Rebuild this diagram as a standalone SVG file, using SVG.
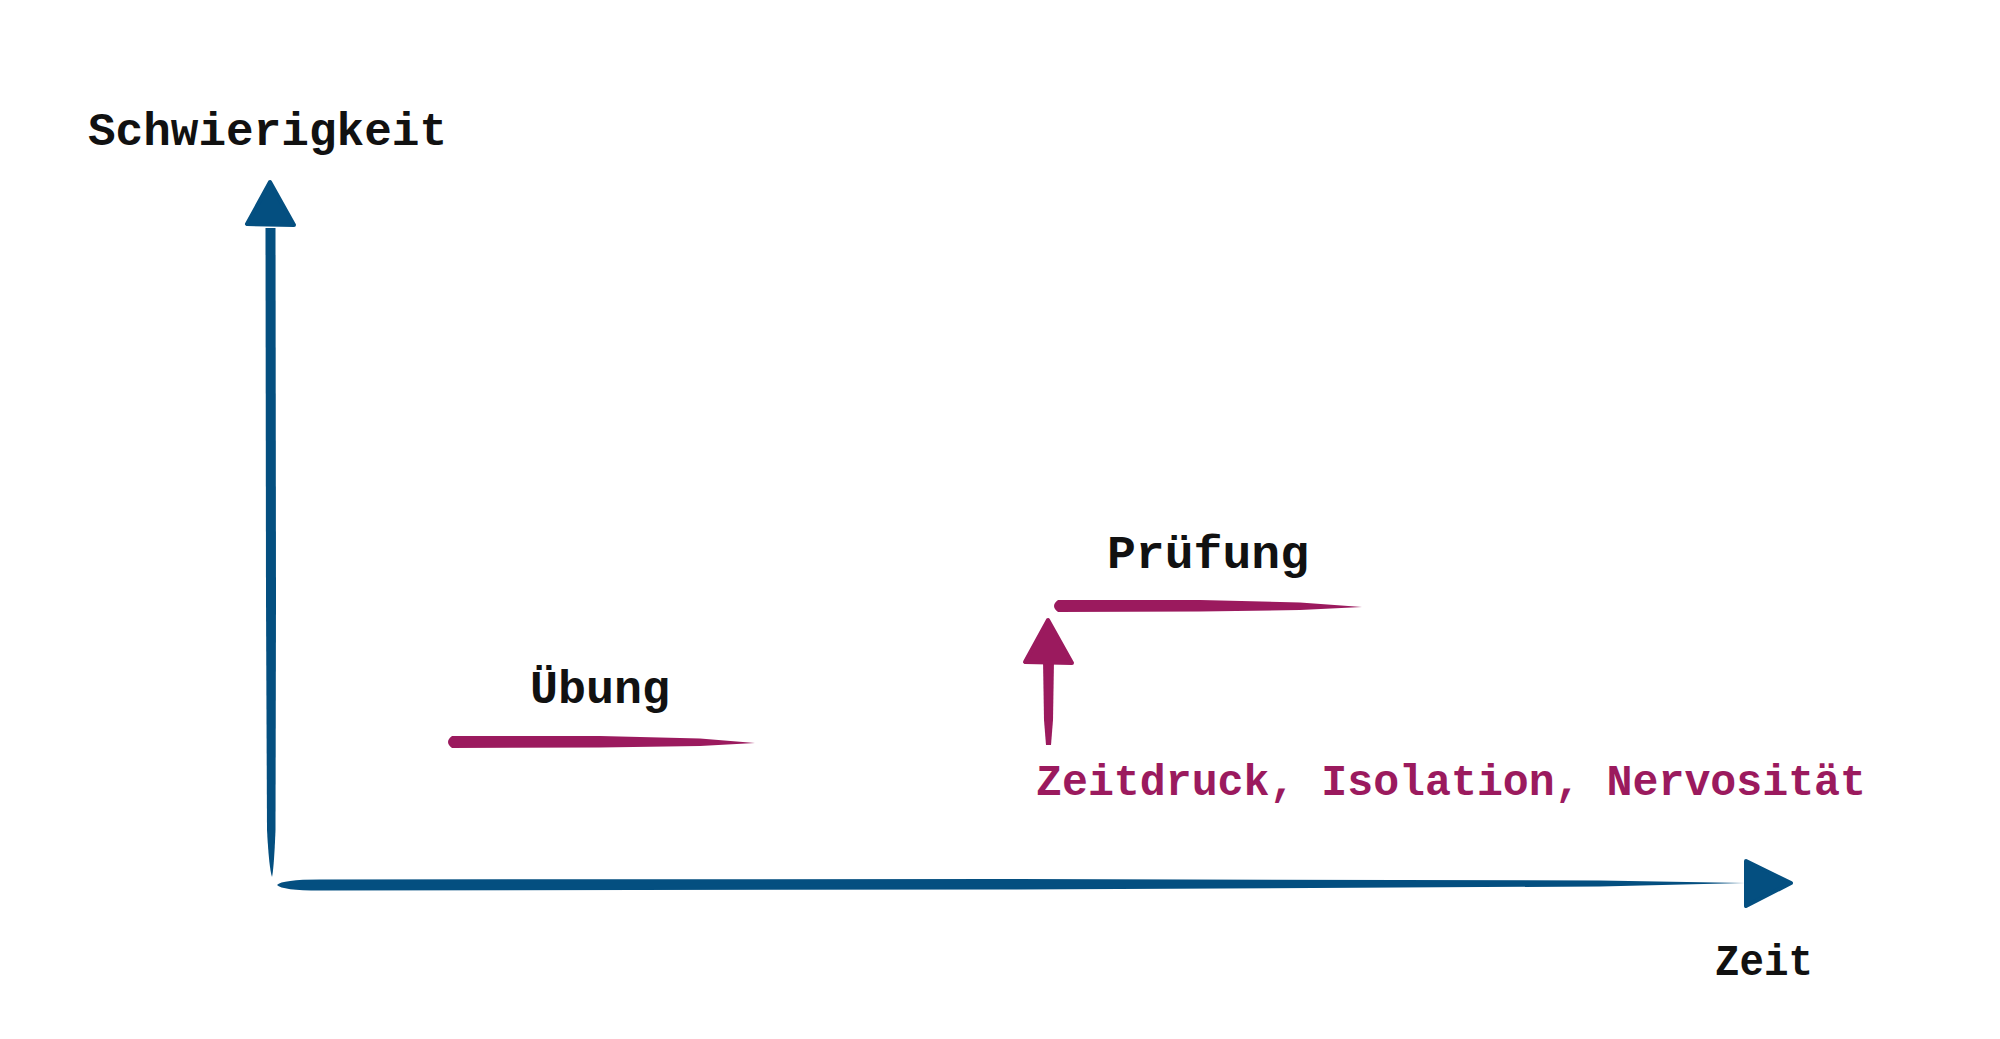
<svg xmlns="http://www.w3.org/2000/svg" width="2000" height="1039" viewBox="0 0 2000 1039">
<style>
.lbl{font-family:"Liberation Mono","Courier New",monospace;font-weight:bold;fill:#111111}
.mag{fill:#9b1a5e}
.blue{fill:#044f80}
.head{stroke-linejoin:round;stroke-width:4}
.hb{fill:#044f80;stroke:#044f80}
.hm{fill:#9b1a5e;stroke:#9b1a5e}
</style>
<rect width="2000" height="1039" fill="#ffffff"/>
<g id="connectors">
  <g id="y-axis">
    <path class="blue" d="M265.5,228 L275.5,228 L276,600 L275.5,830 Q274,868 272,877 Q269,868 267,830 L266,600 Z"/>
    <polygon class="head hb" points="270,182 247,224 294,225"/>
  </g>
  <g id="x-axis">
    <path class="blue" d="M277,885 Q282,879.5 320,879.5 L1000,879 L1600,880.5 L1745,883 L1600,886.5 L1000,889.5 L320,890.5 Q282,890.5 277,885 Z"/>
    <polygon class="head hb" points="1746,861 1791,883 1746,906"/>
  </g>
  <g id="pressure-arrow">
    <path class="mag" d="M1043,660 L1054,660 L1053,720 L1051,745 L1046,745 L1044,720 Z"/>
    <polygon class="head hm" points="1048,620 1025,662 1072,663"/>
  </g>
</g>
<g id="uebung">
  <path class="mag" d="M452,736 Q444,742 452,748 L600,747.5 L700,746 L755,743 L700,738.5 L600,736 Z"/>
  <text class="lbl" x="530" y="703" font-size="46" textLength="140" lengthAdjust="spacingAndGlyphs">Übung</text>
</g>
<g id="pruefung">
  <path class="mag" d="M1058,600 Q1050,606 1058,612 L1200,611.5 L1300,610 L1362,607 L1300,602.5 L1200,600 Z"/>
  <text class="lbl" x="1107" y="568" font-size="46" textLength="202" lengthAdjust="spacingAndGlyphs">Prüfung</text>
</g>
<g id="factors">
  <text class="lbl" x="1036" y="795" font-size="44" textLength="830" lengthAdjust="spacingAndGlyphs" style="fill:#9b1a5e">Zeitdruck, Isolation, Nervosität</text>
</g>
<g id="label-y">
  <text class="lbl" x="88" y="145" font-size="46" textLength="359" lengthAdjust="spacingAndGlyphs">Schwierigkeit</text>
</g>
<g id="label-x">
  <text class="lbl" x="1715" y="975" font-size="44" textLength="98" lengthAdjust="spacingAndGlyphs">Zeit</text>
</g>
</svg>
